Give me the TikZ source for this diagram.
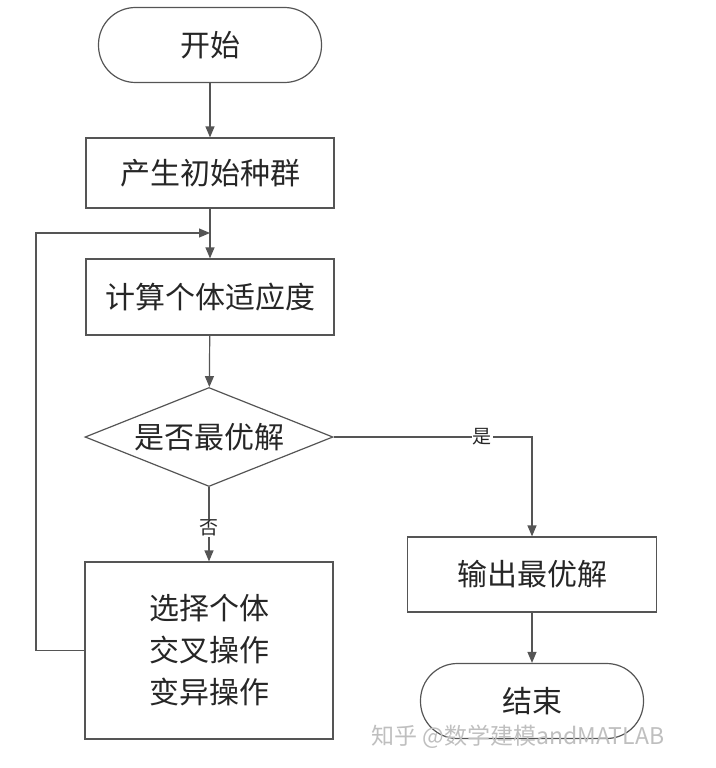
\documentclass[tikz,border=0pt]{standalone}
\usepackage{fontspec}
\newfontfamily\cjk{Noto Sans CJK SC}
\usetikzlibrary{shapes.geometric,arrows.meta}
\tikzset{
  base/.style={draw=linegray, line width=1.2pt, font=\cjk\fontsize{30}{42}\selectfont, text=black!85, inner sep=0pt},
  term/.style={base, rounded corners=37pt, minimum width=223pt, minimum height=75pt},
  proc/.style={base, minimum width=248pt, minimum height=74pt, align=center},
  decide/.style={base, diamond, aspect=2.5, minimum width=248pt, minimum height=99pt},
  flow/.style={draw=linegray, line width=1.2pt, -{Triangle[length=11pt,width=9pt]}},
  lab/.style={font=\cjk\fontsize{19}{22}\selectfont, fill=white, inner sep=1pt, text=black!85},
}
\definecolor{linegray}{RGB}{85,85,85}
\begin{document}
\begin{tikzpicture}[x=1pt,y=-1pt]
\useasboundingbox (0,0) rectangle (715,768);
\node[term] (start) at (210,45) {开始};
\node[proc, minimum height=70pt] (init) at (210,173) {产生初始种群};
\node[proc, minimum height=76pt] (fit) at (210,297) {计算个体适应度};
\node[decide] (dec) at (209,437) {是否最优解};
\node[proc, minimum height=177pt] (ops) at (209,650.5) {选择个体\\交叉操作\\变异操作};
\node[proc, minimum width=249pt, minimum height=75pt] (out) at (532,574.5) {输出最优解};
\node[term] (end) at (532,701) {结束};
\coordinate (join) at (210,233);
\coordinate (loopc) at (36,233);
\draw[flow] (start) -- (init);
\draw[flow] (init) -- (fit);
\draw[flow] (fit) -- (dec);
\draw[flow] (dec) -- node[lab, pos=0.55] {否} (ops);
\draw[flow] (dec.east) -| node[lab, pos=0.375] {是} (out.north);
\draw[flow] (out) -- (end);
\draw[flow] (ops.west) -| (loopc) -- (join);
\node[font=\cjk\fontsize{23}{25}\selectfont, text=black!25, anchor=west] (wm) at (368,737) {知乎 @数学建模andMATLAB};
\end{tikzpicture}
\end{document}
